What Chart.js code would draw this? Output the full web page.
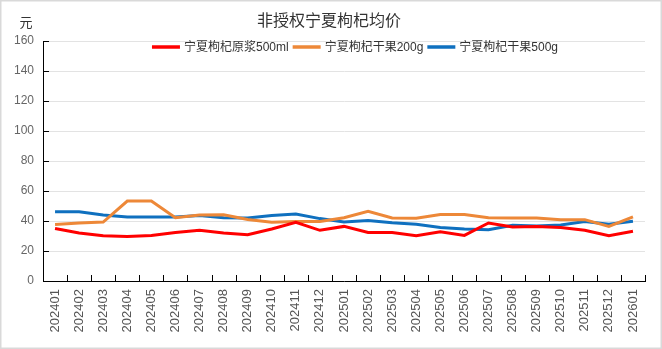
<!DOCTYPE html>
<html>
<head>
<meta charset="utf-8">
<script src="https://cdn.jsdelivr.net/npm/chart.js@4"></script>
<style>
  html, body { margin: 0; padding: 0; background: #fff; }
  #wrap { width: 662px; height: 349px; position: relative; }
</style>
</head>
<body>
<div id="wrap"><canvas id="c" width="662" height="349"></canvas></div>
<script>
// Data
var months = ['202401', '202402', '202403', '202404', '202405', '202406', '202407', '202408', '202409',
    '202410', '202411', '202412', '202501', '202502', '202503', '202504', '202505', '202506',
    '202507', '202508', '202509', '202510', '202511', '202512', '202601'];
var juice500ml = [35, 32, 30.2, 29.6, 30.4, 32.4, 33.8, 32, 30.9, 34.7, 39.1, 33.8, 36.4, 32.4, 32.4,
    30.2, 32.9, 30.4, 38.7, 36, 36.4, 35.6, 33.8, 30.2, 33.1];
var dried200g = [37.6, 38.7, 39.3, 53.3, 53.3, 42.2, 44, 44.2, 41, 39.1, 39.6, 39.6, 42.2, 46.4, 42,
    41.8, 44.4, 44.4, 42.2, 42, 42, 40.9, 40.9, 36.4, 42.7];
var dried500g = [46.2, 46.2, 44, 42.7, 42.7, 42.7, 43.6, 42.2, 42, 43.6, 44.7, 41.6, 39.3, 40.4, 38.9,
    37.8, 35.6, 34.7, 34.2, 37.1, 36.7, 37.3, 39.6, 37.8, 39.8];
var yTicks = [0, 20, 40, 60, 80, 100, 120, 140, 160];

var seriesNames = ['宁夏枸杞原浆500ml', '宁夏枸杞干果200g', '宁夏枸杞干果500g'];
var colors = ['#ff0000', '#ed8838', '#0f70bf'];
var titleText = '非授权宁夏枸杞均价';
var unitText = '元';

var FONT = '"Liberation Sans", "Noto Sans CJK SC", sans-serif';
Chart.defaults.font.family = FONT;

// Frame, title, unit label, legend and inward tick marks drawn on the canvas
var decor = {
    id: 'decor',
    beforeDraw: function (chart) {
        var ctx = chart.ctx;
        ctx.save();
        ctx.fillStyle = '#fff';
        ctx.fillRect(0, 0, chart.width, chart.height);
        ctx.strokeStyle = '#d9d9d9';
        ctx.lineWidth = 1.5;
        ctx.strokeRect(0.75, 0.75, chart.width - 1.5, chart.height - 1.5);
        ctx.restore();
    },
    afterDraw: function (chart) {
        var ctx = chart.ctx, area = chart.chartArea;
        var ys = chart.scales.y;
        ctx.save();
        // title + unit
        ctx.fillStyle = '#333';
        ctx.textBaseline = 'middle';
        ctx.textAlign = 'center';
        ctx.font = '16px ' + FONT;
        ctx.fillText(titleText, 329, 22);
        ctx.font = '13px ' + FONT;
        ctx.fillText(unitText, 26, 23);

        // inward tick marks
        ctx.strokeStyle = '#000';
        ctx.lineWidth = 1;
        ctx.beginPath();
        ys.ticks.forEach(function (t) {
            var y = Math.round(ys.getPixelForValue(t.value)) + 0.5;
            ctx.moveTo(area.left, y); ctx.lineTo(area.left + 6, y);
        });
        var n = months.length;
        for (var i = 0; i <= n; i++) {
            var x = Math.round(area.left + (area.right - area.left) * i / n) + 0.5;
            ctx.moveTo(x, area.bottom); ctx.lineTo(x, area.bottom - 6);
        }
        ctx.stroke();

        // legend
        ctx.font = '12px ' + FONT;
        ctx.textAlign = 'left';
        var lineLen = 28, gapTxt = 4, gapItem = 4;
        var total = 0;
        seriesNames.forEach(function (s, k) {
            total += lineLen + gapTxt + ctx.measureText(s).width + (k ? gapItem : 0);
        });
        var lx = 355 - total / 2, ly = 47;
        seriesNames.forEach(function (s, k) {
            ctx.strokeStyle = colors[k];
            ctx.lineWidth = 3.5;
            ctx.beginPath();
            ctx.moveTo(lx, ly); ctx.lineTo(lx + lineLen, ly);
            ctx.stroke();
            ctx.fillStyle = '#333';
            ctx.fillText(s, lx + lineLen + gapTxt, ly + 0.5);
            lx += lineLen + gapTxt + ctx.measureText(s).width + gapItem;
        });
        ctx.restore();
    }
};

function mk(label, data, col) {
    return { label: label, data: data, borderColor: col, backgroundColor: col,
        borderWidth: 3, pointRadius: 0, pointHoverRadius: 0, tension: 0, fill: false };
}

new Chart(document.getElementById('c'), {
    type: 'line',
    data: {
        labels: months,
        datasets: [
            mk(seriesNames[0], juice500ml, colors[0]),
            mk(seriesNames[1], dried200g, colors[1]),
            mk(seriesNames[2], dried500g, colors[2])
        ]
    },
    options: {
        responsive: false, animation: false,
        layout: { padding: { top: 41, right: 17, bottom: 0, left: 0 } },
        plugins: { legend: { display: false }, title: { display: false }, tooltip: { enabled: false } },
        scales: {
            x: {
                offset: true,
                grid: { display: false, drawTicks: false },
                border: { display: true, color: '#000', width: 1 },
                ticks: { autoSkip: false, minRotation: 90, maxRotation: 90, padding: 8,
                    color: '#555', font: { size: 13 } },
                afterFit: function (s) { s.height = 68; }
            },
            y: {
                min: 0, max: 160,
                afterBuildTicks: function (s) { s.ticks = yTicks.map(function (v) { return { value: v }; }); },
                grid: { color: '#e3e3e3', drawTicks: false, lineWidth: 1 },
                border: { display: true, color: '#000', width: 1 },
                ticks: { padding: 9, color: '#666', font: { size: 12 } },
                afterFit: function (s) { s.width = 43; }
            }
        }
    },
    plugins: [decor]
});
</script>
</body>
</html>
